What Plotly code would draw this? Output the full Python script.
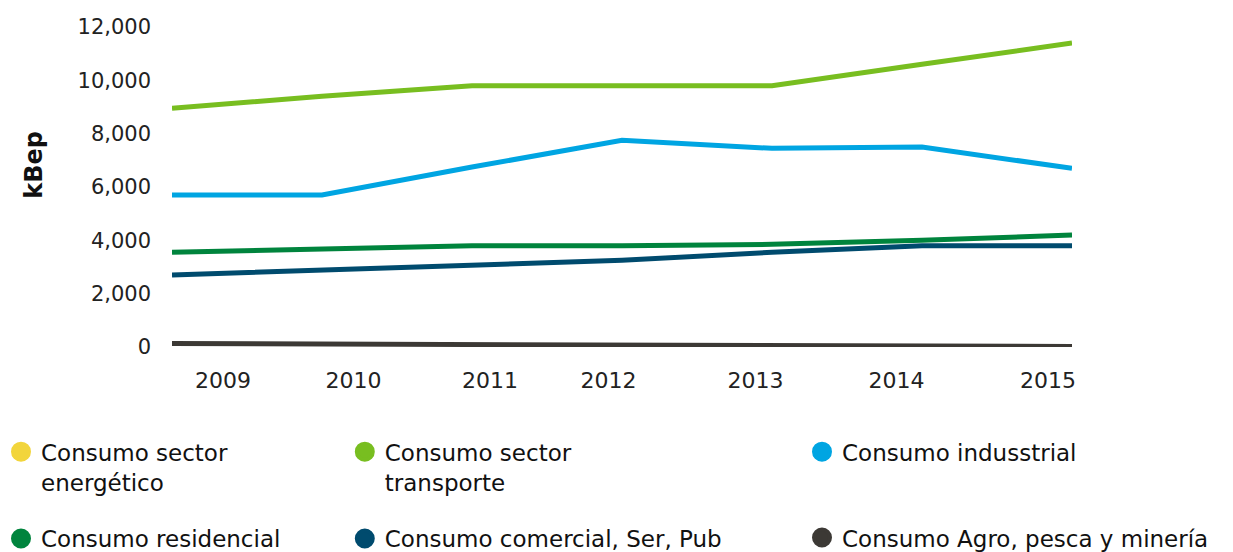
import plotly.graph_objects as go

years = [2009, 2010, 2011, 2012, 2013, 2014, 2015]
tick_labels = ["2009", "2010", "2011", "2012", "2013", "2014", "2015"]
# label offsets as drawn in the reference (labels sit off the data points)
tick_positions = [2009.34, 2010.21, 2011.12, 2011.91, 2012.89, 2013.83, 2014.84]

energetico = [None, None, None, None, None, None, None]
transporte = [8950, 9400, 9800, 9800, 9800, 10600, 11400]
industrial = [5700, 5700, 6750, 7750, 7450, 7500, 6700]
residencial = [3550, 3680, 3800, 3800, 3850, 4000, 4200]
comercial = [2700, 2870, 3050, 3250, 3550, 3800, 3800]
agro = [130, 110, 90, 70, 60, 40, 20]

series = [
    ("Consumo sector<br>energético", energetico, "#F2D53C", "legend"),
    ("Consumo residencial", residencial, "#00843D", "legend"),
    ("Consumo sector<br>transporte", transporte, "#78BE20", "legend2"),
    ("Consumo comercial, Ser, Pub", comercial, "#004B6E", "legend2"),
    ("Consumo indusstrial", industrial, "#00A5E2", "legend3"),
    ("Consumo Agro, pesca y minería", agro, "#3C3935", "legend3"),
]

fig = go.Figure()
# lines
for name, vals, col, lg in series:
    fig.add_trace(go.Scatter(x=years, y=vals, mode="lines", name=name,
                             line=dict(color=col, width=5), showlegend=False,
                             cliponaxis=False, hoverinfo="skip"))
# legend entries
for i, (name, vals, col, lg) in enumerate(series):
    fig.add_trace(go.Scatter(x=[None], y=[None], mode="markers", name=name,
                             marker=dict(color=col, size=20, symbol="circle",
                                         line=dict(color=col, width=4)),
                             legend=lg, legendgroup="g%d" % i, showlegend=True))

font_family = "DejaVu Sans"
legend_common = dict(orientation="v", yanchor="top", xanchor="left", valign="top",
                     font=dict(family=font_family, size=23, color="#111111"),
                     bgcolor="rgba(0,0,0,0)", itemwidth=30)

fig.update_layout(
    width=1233, height=552,
    margin=dict(l=172, r=161, t=27, b=205, autoexpand=False),
    paper_bgcolor="white", plot_bgcolor="white",
    font=dict(family=font_family, color="#111111"),
    xaxis=dict(range=[2009, 2015], tickvals=tick_positions, ticktext=tick_labels,
               showgrid=False, zeroline=False, showline=False, ticks="",
               automargin=False,
               ticklabelstandoff=18, tickfont=dict(size=22, color="#222222")),
    yaxis=dict(range=[0, 12000], tickvals=[0, 2000, 4000, 6000, 8000, 10000, 12000],
               tickformat=",", showgrid=False, zeroline=False, showline=False, ticks="",
               automargin=False,
               ticklabelstandoff=20, tickfont=dict(size=21, color="#222222")),
    legend=dict(x=-0.19, y=-0.26, tracegroupgap=24, **legend_common),
    legend2=dict(x=0.192, y=-0.26, tracegroupgap=24, **legend_common),
    legend3=dict(x=0.70, y=-0.26, tracegroupgap=53, **legend_common),
    showlegend=True,
)

fig.add_annotation(text="<b>kBep</b>", textangle=-90, x=-0.172, y=0.57,
                   xref="paper", yref="paper", showarrow=False,
                   font=dict(family=font_family, size=24, color="#111111"))

fig.write_html("out.html")
